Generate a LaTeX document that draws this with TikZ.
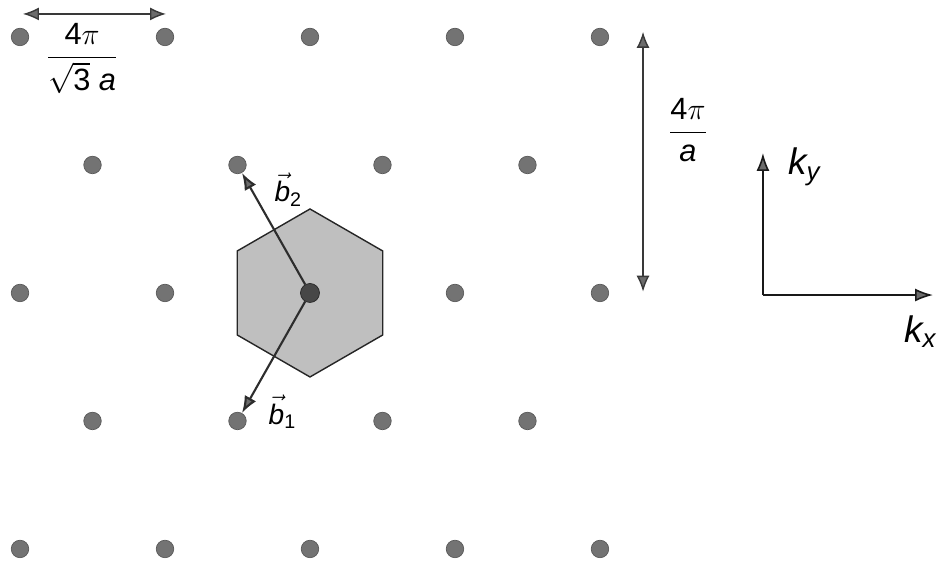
\documentclass[tikz,border=0pt]{standalone}
\usepackage{amsmath}
\usepackage{fontspec}
\setmainfont{Liberation Sans}
\usetikzlibrary{arrows.meta}

\begin{document}
\begin{tikzpicture}[x=2.9cm,y=2.56cm,
        pt/.style={circle,draw=black!65,fill=gray!90!black,minimum size=3.5mm,inner sep=0pt},
        cpt/.style={circle,draw=black!85,fill=black!72,minimum size=3.8mm,inner sep=0pt},
        bz/.style={draw=black!85,fill=gray!50,line width=0.8pt},
        vec/.style={draw=gray!35!black,line width=1.2pt,-{Latex[length=3.4mm,width=2.6mm,fill=gray!85!black]}},
        dim/.style={draw=gray!45!black,line width=0.8pt,{Latex[length=3.2mm,width=2.6mm,fill=gray!85!black]}-{Latex[length=3.2mm,width=2.6mm,fill=gray!85!black]}},
        ax/.style={draw=black!90,line width=0.9pt,-{Latex[length=3.6mm,width=2.6mm,fill=gray!85!black]}},
        lbl/.style={inner sep=0pt,font=\fontsize{17.5}{20}\selectfont},
        blbl/.style={inner sep=0pt,font=\fontsize{16}{19}\selectfont},
        klbl/.style={inner sep=0pt,font=\fontsize{21}{24}\selectfont}
    ]
    \useasboundingbox (-0.138,0.289) rectangle (6.359,-4.094);
    % First Brillouin zone
    \draw[bz,shift={(2,-2)}] (90:1.68cm) \foreach \a in {150,210,...,390} { -- (\a:1.68cm) } -- cycle;
    % Reciprocal lattice points
    \foreach \r in {0,...,4} {
        \pgfmathtruncatemacro{\isodd}{mod(\r,2)}
        \ifnum\isodd=1
            \foreach \c in {0,...,3} {
                \node[pt] (m\r\c) at (\c+0.5,-\r) {};
            }
        \else
            \foreach \c in {0,...,4} {
                \pgfmathtruncatemacro{\isctr}{(\r==2)&&(\c==2) ? 1 : 0}
                \ifnum\isctr=1
                    \node[cpt] (m\r\c) at (\c,-\r) {};
                \else
                    \node[pt]  (m\r\c) at (\c,-\r) {};
                \fi
            }
        \fi
    }
    % Basis vectors
    \draw[vec] (m22)--(m11);
    \draw[vec] (m22)--(m31);
    \node[blbl] (lb2) at (1.85,-1.19) {$\vec{\text{\itshape b}}_{\text{2}}$};
    \node[blbl] (lb1) at (1.81,-2.93) {$\vec{\text{\itshape b}}_{\text{1}}$};
    % Horizontal period
    \coordinate (w0) at (0.02,0.18);
    \coordinate (w1) at (1.007,0.18);
    \draw[dim] (w0)--(w1);
    \node[lbl] (lw) at (0.428,-0.17) {$\dfrac{\text{4}\pi}{\sqrt{\text{3}}\;\text{\itshape a}}$};
    % Vertical period
    \coordinate (h0) at (4.297,0.04);
    \coordinate (h1) at (4.297,-1.99);
    \draw[dim] (h0)--(h1);
    \node[lbl] (lh) at (4.607,-0.727) {$\dfrac{\text{4}\pi}{\text{\itshape a}}$};
    % Axes
    \coordinate (o) at (5.124,-2.016);
    \coordinate (kxend) at (6.297,-2.016);
    \coordinate (kyend) at (5.124,-0.906);
    \draw[ax] (o)--(kxend);
    \draw[ax] (o)--(kyend);
    \node[klbl] (lkx) at (6.21,-2.30) {$\text{\itshape k}_{\text{\itshape x}}$};
    \node[klbl] (lky) at (5.41,-1.016) {$\text{\itshape k}_{\text{\itshape y}}$};
\end{tikzpicture}
\end{document}
